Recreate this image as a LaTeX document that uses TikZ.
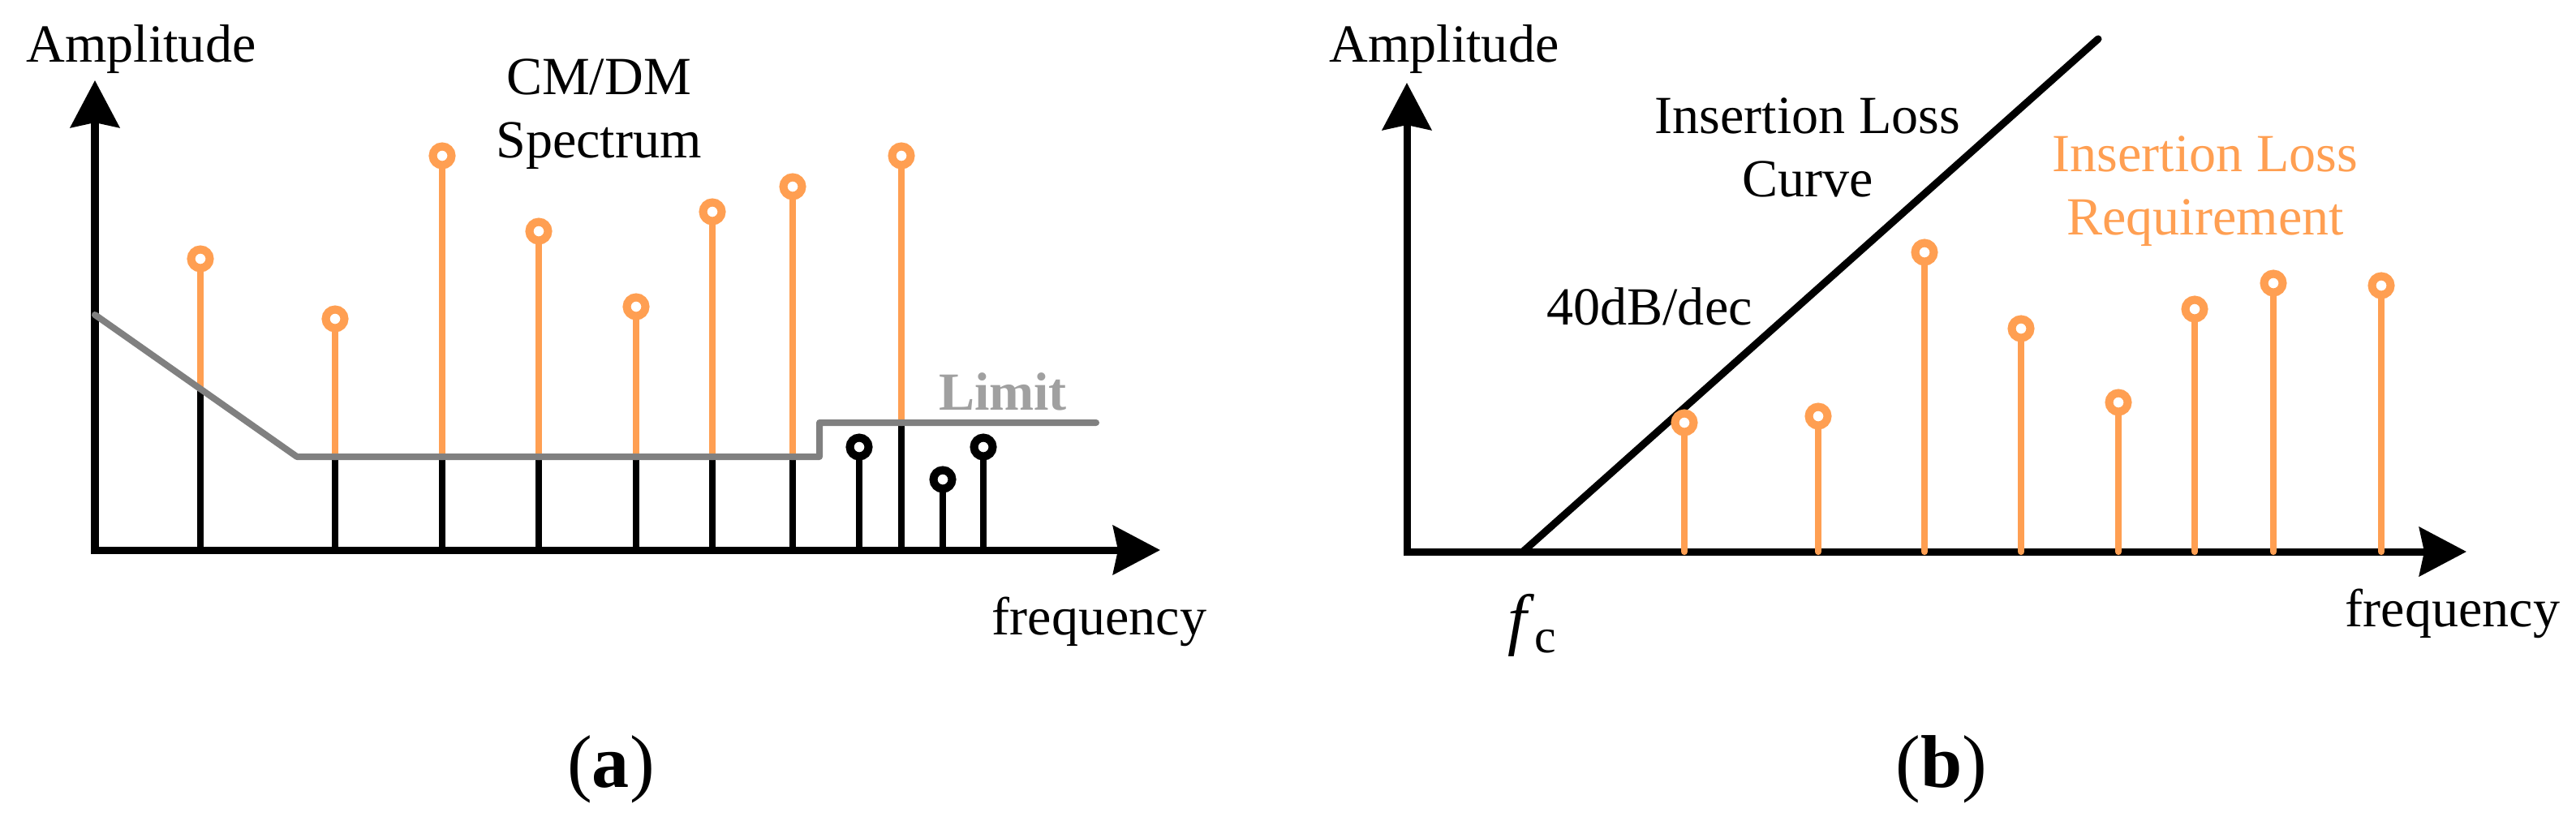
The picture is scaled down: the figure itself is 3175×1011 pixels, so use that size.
\documentclass[tikz,border=0pt]{standalone}
\usepackage{fontspec}
\setmainfont{Liberation Serif}
\usepackage{xcolor}
\usetikzlibrary{arrows.meta}
\definecolor{spec}{RGB}{255,159,82}
\definecolor{lim}{RGB}{128,128,128}
\definecolor{limtxt}{RGB}{160,160,160}

\begin{document}
\begin{tikzpicture}[x=0.01cm,y=-0.01cm,
    ax/.style={line width=0.9mm,{Stealth[length=5.8mm,width=6mm,inset=0.6mm]}-{Stealth[length=5.8mm,width=6mm,inset=0.6mm]}},
    stem/.style={line width=0.83mm,line cap=round},
    dot/.style={circle,draw=#1,fill=white,line width=1mm,inner sep=0pt,minimum size=2.3mm},
    lbl/.style={inner sep=0pt,font=\fontsize{18.8}{22.2}\selectfont,align=center},
    sublbl/.style={inner sep=0pt,font=\fontsize{26.2}{30}\selectfont}
  ]
  \useasboundingbox (0,0) rectangle (3175,1011);

  % (a) spectrum against the limit
  \coordinate (ya) at (117,99);
  \coordinate (xa) at (1430,678);
  \draw[ax] (ya) |- (xa);
  \foreach \x/\h/\l [count=\i] in {247/319/479,413/393/563,545/192/563,664/285/563,
      784/378/563,878/261/563,977/230/563,1111/192/521}{
    \node[dot=spec] (pa\i) at (\x,\h) {};
    \draw[stem] (\x,678) -- (\x,\l);
    \draw[stem,spec] (\x,\l) -- (pa\i.south);
  }
  \foreach \x/\h [count=\i] in {1059/551,1162/591,1212/551}{
    \node[dot=black] (qa\i) at (\x,\h) {};
    \draw[stem] (\x,678) -- (qa\i.south);
  }
  \draw[lim,line width=0.8mm,line cap=round,line join=round]
    (117,388) -- (366,563) -- (1010,563) -- (1010,521) -- (1351,521);

  \node[lbl,anchor=base] (ampa) at (174,76) {Amplitude};
  \node[lbl] (spectrum) at (738,141) {CM/DM\\Spectrum};
  \node[lbl,anchor=base,text=limtxt,font=\fontsize{18.8}{22.2}\selectfont\bfseries] (limit) at (1236,505) {Limit};
  \node[lbl,anchor=base] (freqa) at (1355,782) {frequency};
  \node[sublbl,anchor=base] (capa) at (753,970) {(\textbf{a})};

  % (b) insertion loss
  \coordinate (yb) at (1734,102);
  \coordinate (xb) at (3040,680);
  \draw[ax] (yb) |- (xb);
  \coordinate (fc) at (1877,680);
  \coordinate (il) at (2586,48);
  \draw[line width=0.9mm,line cap=round] (fc) -- (il);
  \foreach \x/\h [count=\i] in {2076/521,2241/513,2372/311,2491/405,
      2611/496,2705/381,2802/349,2935/352}{
    \node[dot=spec] (pb\i) at (\x,\h) {};
    \draw[stem,spec] (\x,680) -- (pb\i.south);
  }

  \node[lbl,anchor=base] (ampb) at (1780,76) {Amplitude};
  \node[lbl] (ilcurve) at (2228,182) {Insertion Loss\\Curve};
  \node[lbl,anchor=base] (slope) at (2033,400) {40dB/dec};
  \node[lbl,text=spec] (ilreq) at (2718,236) {Insertion Loss\\Requirement};
  \node[lbl,anchor=base] (freqb) at (3023,772) {frequency};
  \node[inner sep=0pt,anchor=base west] (fclbl) at (1858,791)
    {\fontsize{23.9}{28}\selectfont\itshape f\/\raisebox{-0.13cm}{\upshape\fontsize{17}{20}\selectfont c}};
  \node[sublbl,anchor=base] (capb) at (2393,970) {(\textbf{b})};
\end{tikzpicture}
\end{document}
